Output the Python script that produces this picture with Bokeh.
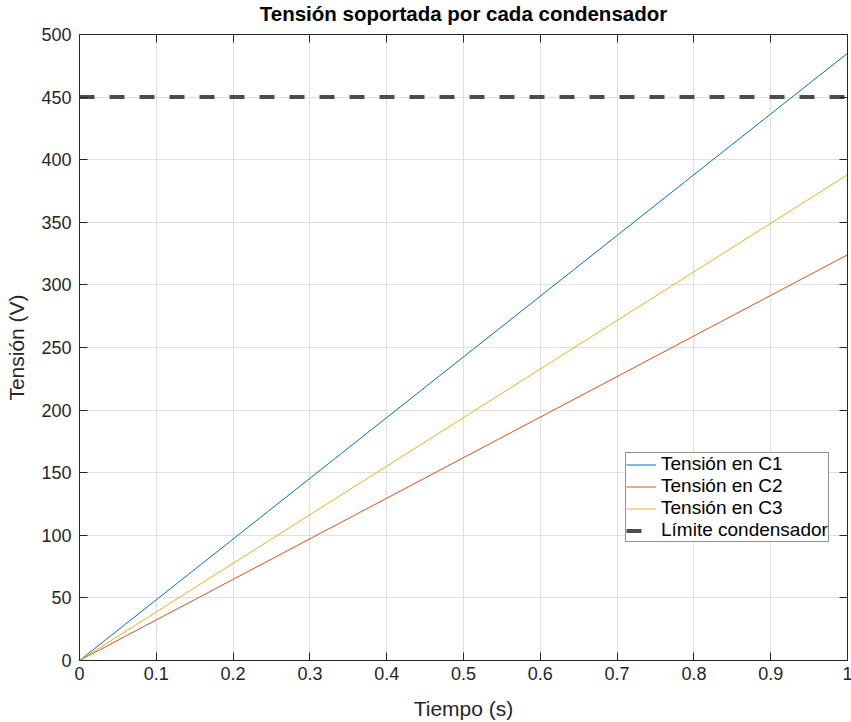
from bokeh.plotting import figure
from bokeh.models import LinearAxis, Range1d, FixedTicker, Legend, LegendItem, CustomLabelingPolicy
from bokeh.embed import file_html
from bokeh.resources import INLINE

t = [0.0, 1.0]
v_c1 = [0.0, 485.0]
v_c2 = [0.0, 324.0]
v_c3 = [0.0, 388.0]
v_lim = [450.0, 450.0]
x_ticks = [0, 0.1, 0.2, 0.3, 0.4, 0.5, 0.6, 0.7, 0.8, 0.9, 1]
y_ticks = [0, 50, 100, 150, 200, 250, 300, 350, 400, 450, 500]
x_labels = {0: "0", 0.1: "0.1", 0.2: "0.2", 0.3: "0.3", 0.4: "0.4", 0.5: "0.5",
            0.6: "0.6", 0.7: "0.7", 0.8: "0.8", 0.9: "0.9", 1: "1"}
series_names = ["Tensión en C1", "Tensión en C2", "Tensión en C3", "Límite condensador"]
colors = ["#0072BD", "#D95319", "#EDB120", "#4D4D4D"]

FONT = "Liberation Sans"
TXT = "#262626"

p = figure(frame_width=768, frame_height=626, output_backend="svg", toolbar_location=None,
           x_range=Range1d(0, 1), y_range=Range1d(0, 500),
           min_border_left=79, min_border_right=0, min_border_top=26, min_border_bottom=50)
p.title.text = "Tensión soportada por cada condensador"
p.title.text_font = FONT
p.title.text_font_size = "20.5px"
p.title.text_font_style = "bold"
p.title.text_color = "#000000"
p.title.align = "center"
p.title.offset = 0
p.title.standoff = -2

p.outline_line_color = TXT
p.outline_line_width = 1
p.background_fill_color = "white"
p.border_fill_color = "white"

for ax in [p.xaxis[0], p.yaxis[0]]:
    ax.major_label_text_font = FONT
    ax.major_label_text_font_size = "18px"
    ax.major_label_text_color = TXT
    ax.axis_label_text_font = FONT
    ax.axis_label_text_font_size = "21px"
    ax.axis_label_text_font_style = "normal"
    ax.axis_label_text_color = TXT
    ax.axis_line_color = TXT
    ax.major_tick_line_color = TXT
    ax.major_tick_in = 8
    ax.major_tick_out = 0
    ax.minor_tick_line_color = None

p.xaxis[0].ticker = FixedTicker(ticks=x_ticks)
p.xaxis[0].major_label_overrides = x_labels
p.yaxis[0].ticker = FixedTicker(ticks=y_ticks)
p.xaxis[0].axis_label = "Tiempo (s)"
p.yaxis[0].axis_label = "Tensión (V)"
p.xaxis[0].major_label_standoff = 6
p.yaxis[0].major_label_standoff = 8
p.xaxis[0].axis_label_standoff = 14
p.yaxis[0].axis_label_standoff = 10

no_labels = CustomLabelingPolicy(code="return new Set()")
top = LinearAxis(ticker=FixedTicker(ticks=x_ticks), major_label_policy=no_labels,
                 major_tick_in=8, major_tick_out=0, minor_tick_line_color=None,
                 axis_line_color=TXT, major_tick_line_color=TXT, major_label_standoff=0,
                 axis_label_standoff=0)
right = LinearAxis(ticker=FixedTicker(ticks=y_ticks), major_label_policy=no_labels,
                   major_tick_in=8, major_tick_out=0, minor_tick_line_color=None,
                   axis_line_color=TXT, major_tick_line_color=TXT, major_label_standoff=0,
                   axis_label_standoff=0)
p.add_layout(top, "above")
p.add_layout(right, "right")

p.xgrid.ticker = FixedTicker(ticks=x_ticks)
p.ygrid.ticker = FixedTicker(ticks=y_ticks)
p.grid.grid_line_color = "#DFDFDF"
p.grid.grid_line_width = 1

r1 = p.line(t, v_c1, line_color=colors[0], line_width=1)
r2 = p.line(t, v_c2, line_color=colors[1], line_width=1)
r3 = p.line(t, v_c3, line_color=colors[2], line_width=1)
r4 = p.line(t, v_lim, line_color=colors[3], line_width=4, line_dash="15 15")

legend = Legend(items=[LegendItem(label=series_names[0], renderers=[r1]),
                       LegendItem(label=series_names[1], renderers=[r2]),
                       LegendItem(label=series_names[2], renderers=[r3]),
                       LegendItem(label=series_names[3], renderers=[r4])],
                location=(546, 118))
legend.label_text_font = FONT
legend.label_text_font_size = "19px"
legend.label_text_color = "#000000"
legend.label_height = 17
legend.glyph_height = 17
legend.glyph_width = 30
legend.spacing = 0
legend.padding = 0
legend.margin = 0
legend.label_standoff = 5
legend.border_line_color = TXT
legend.border_line_width = 1
legend.background_fill_color = "white"
legend.background_fill_alpha = 1
p.add_layout(legend, "center")

open("out.html", "w").write(file_html(p, INLINE))
